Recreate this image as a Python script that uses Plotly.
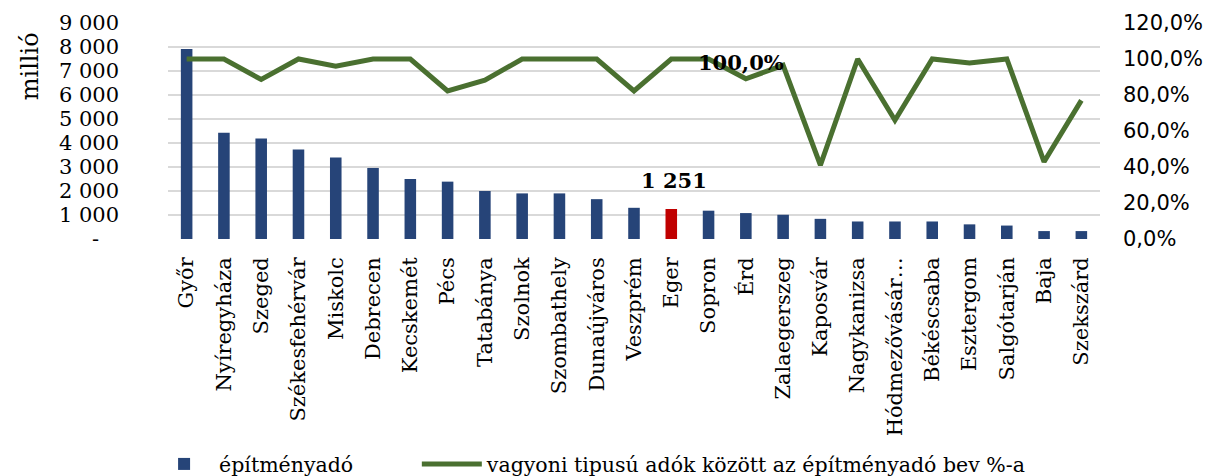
import plotly.graph_objects as go

cities = ["Győr", "Nyíregyháza", "Szeged", "Székesfehérvár", "Miskolc", "Debrecen",
          "Kecskemét", "Pécs", "Tatabánya", "Szolnok", "Szombathely", "Dunaújváros",
          "Veszprém", "Eger", "Sopron", "Érd", "Zalaegerszeg", "Kaposvár", "Nagykanizsa",
          "Hódmezővásár…", "Békéscsaba", "Esztergom", "Salgótarján", "Baja", "Szekszárd"]
epitmenyado = [7920, 4430, 4190, 3730, 3400, 2960, 2500, 2390, 2000, 1900, 1900, 1660,
               1300, 1251, 1180, 1080, 1010, 840, 730, 730, 730, 610, 560, 330, 330]
arany_pct = [100, 100, 88.6, 100, 96, 100, 100, 82.3, 88.2, 100, 100, 100,
             82.3, 100, 100, 89, 96.5, 41, 100, 66, 100, 97.8, 100, 42.9, 77]
highlight_city = "Eger"
left_ticks = [0, 1000, 2000, 3000, 4000, 5000, 6000, 7000, 8000, 9000]
left_ticktext = ["-\u00a0\u00a0\u00a0", "1\u00a0000", "2\u00a0000", "3\u00a0000", "4\u00a0000",
                 "5\u00a0000", "6\u00a0000", "7\u00a0000", "8\u00a0000", "9\u00a0000"]
right_ticks = [0, 20, 40, 60, 80, 100, 120]
right_ticktext = ["0,0%", "20,0%", "40,0%", "60,0%", "80,0%", "100,0%", "120,0%"]

BLUE = "#264478"
RED = "#C00000"
GREEN = "#4A7030"

bar_colors = [RED if c == highlight_city else BLUE for c in cities]

fig = go.Figure()
fig.add_trace(go.Bar(x=cities, y=epitmenyado, name="építményadó" + "\u00a0" * 9,
                     marker=dict(color=bar_colors, line=dict(width=0)),
                     width=0.31))
fig.add_trace(go.Scatter(x=cities, y=arany_pct, yaxis="y2", mode="lines",
                         name="vagyoni tipusú adók között az építményadó bev %-a",
                         line=dict(color=GREEN, width=5)))

serif = "DejaVu Serif"
fig.add_annotation(x=highlight_city, y=epitmenyado[cities.index(highlight_city)],
                   text="<b>1\u00a0251</b>", showarrow=False, yanchor="bottom", yshift=14,
                   xshift=3, font=dict(family=serif, size=21, color="black"))
fig.add_annotation(x="Sopron", y=arany_pct[cities.index("Sopron")], yref="y2",
                   text="<b>100,0%</b>", showarrow=False, xshift=32, yshift=-3,
                   font=dict(family=serif, size=21, color="black"))
fig.add_annotation(xref="paper", yref="paper", x=-0.148, y=0.8, text="millió",
                   xanchor="center", yanchor="middle",
                   textangle=-90, showarrow=False, font=dict(family=serif, size=24, color="black"))

fig.update_layout(
    width=1212, height=476,
    margin=dict(l=168, r=112, t=23, b=237, autoexpand=False),
    paper_bgcolor="white", plot_bgcolor="white",
    showlegend=True,
    legend=dict(orientation="h", xref="container", yref="container", x=0.123, y=0.025,
                xanchor="left", yanchor="middle", itemwidth=60,
                font=dict(family=serif, size=20.5, color="black")),
    xaxis=dict(tickangle=-90, tickfont=dict(family=serif, size=21, color="black"),
               showgrid=False, showline=False, ticks="", ticklabelstandoff=13),
    yaxis=dict(range=[0, 9000], tickvals=left_ticks, ticktext=left_ticktext,
               tickfont=dict(family=serif, size=21, color="black"),
               showgrid=True, gridcolor="#D9D9D9", gridwidth=2, zeroline=False,
               ticklabelstandoff=48),
    yaxis2=dict(range=[0, 120], tickvals=right_ticks, ticktext=right_ticktext,
                overlaying="y", side="right", showgrid=False, zeroline=False,
                tickfont=dict(family="DejaVu Sans", size=21, color="black"),
                ticklabelstandoff=22),
)

fig.write_html("out.html", config={"displayModeBar": False},
               post_script="document.body.style.margin='0';")
